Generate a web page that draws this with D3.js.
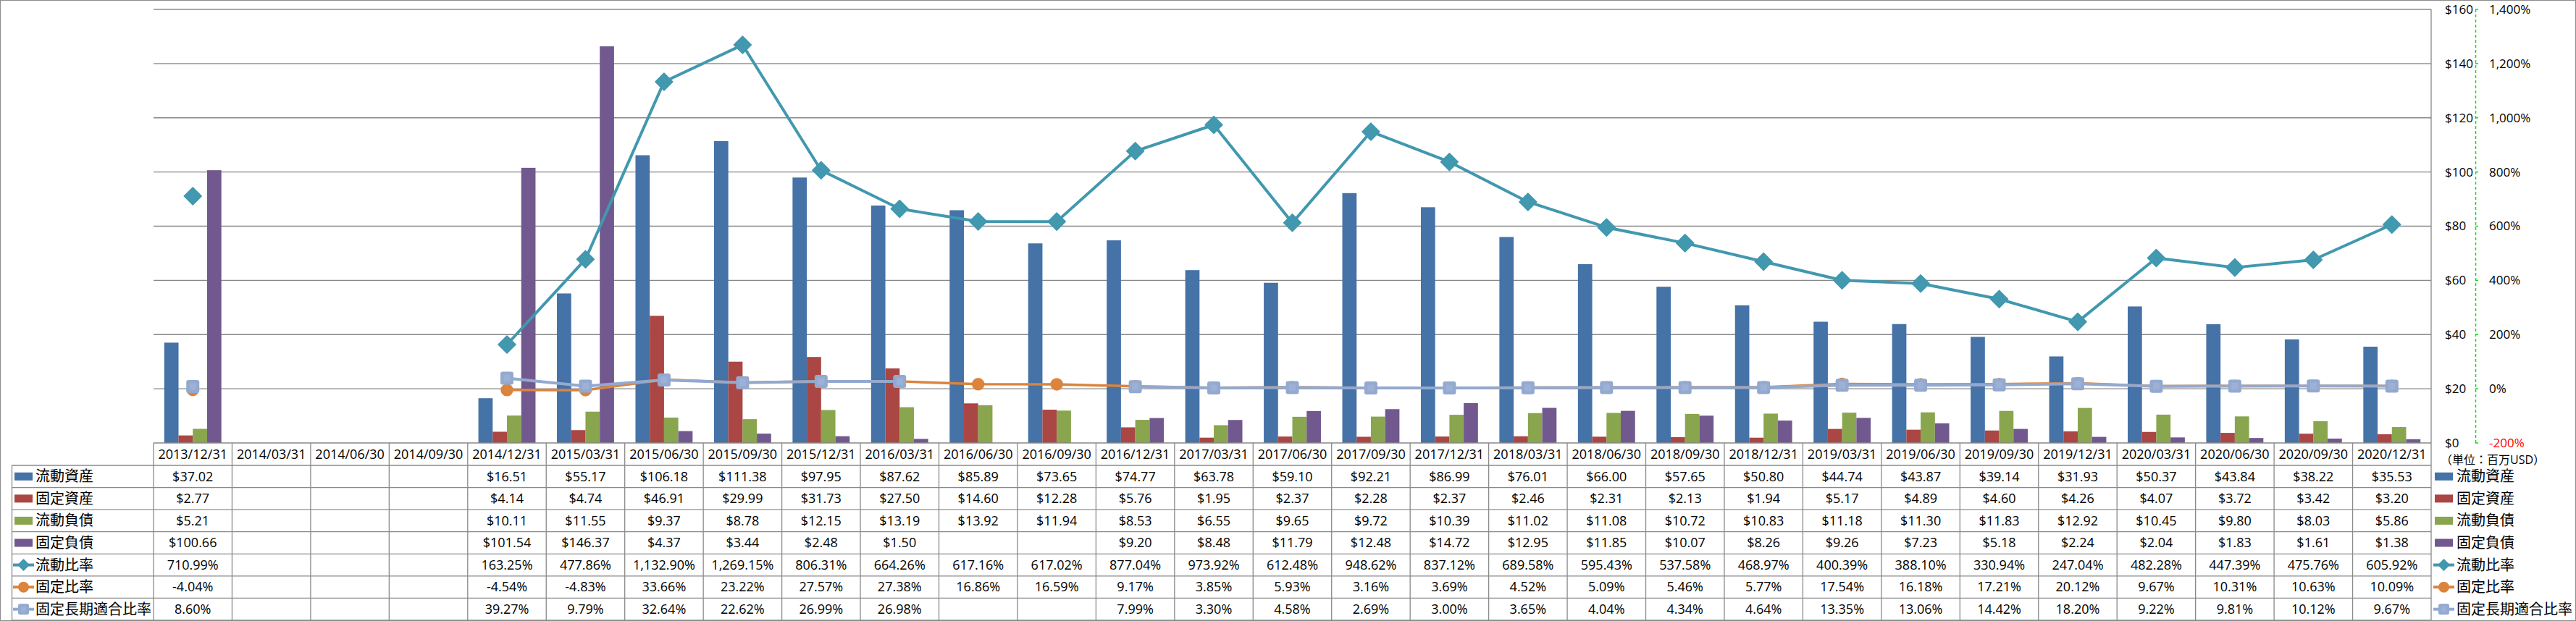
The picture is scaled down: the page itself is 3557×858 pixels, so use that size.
<!DOCTYPE html>
<html><head><meta charset="utf-8">
<script src="https://cdn.jsdelivr.net/npm/d3@7"></script>
<style>
html,body{margin:0;padding:0;background:#fff;}
svg text{font-family:"Open Sans","Noto Sans CJK JP",sans-serif;fill:#000;}
</style></head>
<body>
<script>
const dates = ["2013/12/31","2014/03/31","2014/06/30","2014/09/30","2014/12/31","2015/03/31","2015/06/30","2015/09/30","2015/12/31","2016/03/31","2016/06/30","2016/09/30","2016/12/31","2017/03/31","2017/06/30","2017/09/30","2017/12/31","2018/03/31","2018/06/30","2018/09/30","2018/12/31","2019/03/31","2019/06/30","2019/09/30","2019/12/31","2020/03/31","2020/06/30","2020/09/30","2020/12/31"];
const n = null;
const currentAssets = [37.02,n,n,n,16.51,55.17,106.18,111.38,97.95,87.62,85.89,73.65,74.77,63.78,59.10,92.21,86.99,76.01,66.00,57.65,50.80,44.74,43.87,39.14,31.93,50.37,43.84,38.22,35.53];
const fixedAssets = [2.77,n,n,n,4.14,4.74,46.91,29.99,31.73,27.50,14.60,12.28,5.76,1.95,2.37,2.28,2.37,2.46,2.31,2.13,1.94,5.17,4.89,4.60,4.26,4.07,3.72,3.42,3.20];
const currentLiab = [5.21,n,n,n,10.11,11.55,9.37,8.78,12.15,13.19,13.92,11.94,8.53,6.55,9.65,9.72,10.39,11.02,11.08,10.72,10.83,11.18,11.30,11.83,12.92,10.45,9.80,8.03,5.86];
const fixedLiab = [100.66,n,n,n,101.54,146.37,4.37,3.44,2.48,1.50,n,n,9.20,8.48,11.79,12.48,14.72,12.95,11.85,10.07,8.26,9.26,7.23,5.18,2.24,2.04,1.83,1.61,1.38];
const currentRatio = [710.99,n,n,n,163.25,477.86,1132.90,1269.15,806.31,664.26,617.16,617.02,877.04,973.92,612.48,948.62,837.12,689.58,595.43,537.58,468.97,400.39,388.10,330.94,247.04,482.28,447.39,475.76,605.92];
const fixedRatio = [-4.04,n,n,n,-4.54,-4.83,33.66,23.22,27.57,27.38,16.86,16.59,9.17,3.85,5.93,3.16,3.69,4.52,5.09,5.46,5.77,17.54,16.18,17.21,20.12,9.67,10.31,10.63,10.09];
const fixedLongRatio = [8.60,n,n,n,39.27,9.79,32.64,22.62,26.99,26.98,n,n,7.99,3.30,4.58,2.69,3.00,3.65,4.04,4.34,4.64,13.35,13.06,14.42,18.20,9.22,9.81,10.12,9.67];
const leftTicks = [0,20,40,60,80,100,120,140,160];
const rightTicks = [-200,0,200,400,600,800,1000,1200,1400];
const unitLabel = "（単位：百万USD）";

const barSeries = [
  {name:"流動資産", values:currentAssets, color:"#4572A7"},
  {name:"固定資産", values:fixedAssets, color:"#AA4643"},
  {name:"流動負債", values:currentLiab, color:"#89A54E"},
  {name:"固定負債", values:fixedLiab, color:"#71588F"}
];
const lineSeries = [
  {name:"流動比率", values:currentRatio, color:"#4198AF", marker:"diamond", width:4},
  {name:"固定比率", values:fixedRatio, color:"#DB843D", marker:"circle", width:3.5},
  {name:"固定長期適合比率", values:fixedLongRatio, color:"#93A9CF", marker:"square", width:4}
];

const loc = d3.formatLocale({decimal:".", thousands:",", grouping:[3], currency:["$",""], minus:"-"});

const W = 3557, H = 858;
const L = 212, R = 3357, T = 13, B = 612;
const rowTop = 643, rowH = 30.57;
const grid = "#888888";

const svg = d3.select("body").append("svg").attr("width", W).attr("height", H);
svg.append("rect").attr("x",0.5).attr("y",0.5).attr("width",W-1).attr("height",H-1).attr("fill","#fff").attr("stroke","#8c8c8c");

const x = d3.scaleBand().domain(dates).range([L, R]).padding(0);
const xb = d3.scaleBand().domain(barSeries.map(s=>s.name)).range([0, x.bandwidth()]).paddingInner(0).paddingOuter(0.75);
const y = d3.scaleLinear().domain([0,160]).range([B, T]);
const y2 = d3.scaleLinear().domain([-200,1400]).range([B, T]);

// gridlines
svg.append("g").selectAll("line").data(leftTicks.filter(t=>t>0)).join("line")
  .attr("x1",L).attr("x2",R).attr("y1",d=>y(d)).attr("y2",d=>y(d))
  .attr("stroke",grid).attr("stroke-width",1.3);

// bars
barSeries.forEach(s=>{
  svg.append("g").selectAll("rect").data(s.values.map((v,i)=>({v,d:dates[i]})).filter(o=>o.v!=null)).join("rect")
    .attr("x",o=>x(o.d)+xb(s.name)).attr("width",xb.bandwidth())
    .attr("y",o=>y(o.v)).attr("height",o=>B-y(o.v)).attr("fill",s.color);
});

// axis frame
svg.append("line").attr("x1",L).attr("x2",R).attr("y1",B).attr("y2",B).attr("stroke",grid).attr("stroke-width",1.3);
svg.append("line").attr("x1",R).attr("x2",R).attr("y1",T).attr("y2",B).attr("stroke",grid).attr("stroke-width",1.3);

// lines
function drawMarker(g, type, cx, cy, color, size){
  if(type==="diamond"){
    const h=size/2;
    g.append("path").attr("d",`M${cx},${cy-h}L${cx+h},${cy}L${cx},${cy+h}L${cx-h},${cy}Z`)
      .attr("fill",color).attr("stroke",color).attr("stroke-width",1.5).attr("stroke-linejoin","round");
  } else if(type==="circle"){
    g.append("circle").attr("cx",cx).attr("cy",cy).attr("r",size/2).attr("fill",color);
  } else {
    g.append("rect").attr("x",cx-size/2).attr("y",cy-size/2).attr("width",size).attr("height",size).attr("rx",size*0.18).attr("fill",color);
    g.append("rect").attr("x",cx-size/4).attr("y",cy-size/4).attr("width",size/2).attr("height",size/2).attr("fill","#a3b7da").attr("opacity",0.6);
  }
}
const msize = {diamond:24, circle:17.5, square:18};
lineSeries.forEach(s=>{
  const g = svg.append("g");
  const line = d3.line().defined(d=>d.v!=null).x(d=>x(d.d)+x.bandwidth()/2).y(d=>y2(d.v));
  const data = s.values.map((v,i)=>({v,d:dates[i]}));
  g.append("path").attr("d",line(data)).attr("fill","none").attr("stroke",s.color).attr("stroke-width",s.width).attr("stroke-linejoin","round");
  data.filter(o=>o.v!=null).forEach(o=>drawMarker(g,s.marker,x(o.d)+x.bandwidth()/2,y2(o.v),s.color,msize[s.marker]));
});

// right axes
const ax = svg.append("g");
ax.selectAll("text.l").data(leftTicks).join("text").attr("class","l")
  .attr("x",3376).attr("y",d=>y(d)).attr("dy","0.35em").attr("font-size",17).text(d=>"$"+d);
ax.append("line").attr("x1",3418.5).attr("x2",3418.5).attr("y1",T).attr("y2",B)
  .attr("stroke","#00e600").attr("stroke-width",1.5).attr("stroke-dasharray","4,3");
ax.selectAll("line.t").data(rightTicks).join("line").attr("class","t")
  .attr("x1",3418).attr("x2",3422).attr("y1",d=>y2(d)).attr("y2",d=>y2(d)).attr("stroke","#00e600").attr("stroke-width",1.5);
ax.selectAll("text.r").data(rightTicks).join("text").attr("class","r")
  .attr("x",3437).attr("y",d=>y2(d)).attr("dy","0.35em").attr("font-size",17)
  .style("fill",d=>d<0?"#ff0000":"#000")
  .text(d=>loc.format(",")(d)+"%");
svg.append("text").attr("x",3370).attr("y",635).attr("dy","0.35em").attr("font-size",16).text(unitLabel);

// data table
const tg = svg.append("g");
const tbl = "#8a8a8a";
tg.selectAll("line.v").data(dates.concat(["_end"])).join("line").attr("class","v")
  .attr("x1",(d,i)=>L+i*x.bandwidth()).attr("x2",(d,i)=>L+i*x.bandwidth())
  .attr("y1",B).attr("y2",H-1).attr("stroke",tbl).attr("stroke-width",1.3);
const nRows = 7;
d3.range(nRows+1).forEach(r=>{
  tg.append("line").attr("x1",16).attr("x2",R).attr("y1",rowTop+r*rowH).attr("y2",rowTop+r*rowH).attr("stroke",tbl).attr("stroke-width",1.3);
});
tg.append("line").attr("x1",16.5).attr("x2",16.5).attr("y1",rowTop).attr("y2",H-1).attr("stroke",tbl).attr("stroke-width",1.3);
tg.selectAll("text.h").data(dates).join("text").attr("class","h")
  .attr("x",d=>x(d)+x.bandwidth()/2).attr("y",628).attr("dy","0.35em").attr("text-anchor","middle").attr("font-size",18).text(d=>d);

const fmtD = v=>v==null?"":"$"+loc.format(".2f")(v);
const fmtP = v=>v==null?"":loc.format(",.2f")(v)+"%";
const rows = barSeries.map(s=>({s,kind:"bar",fmt:fmtD})).concat(lineSeries.map(s=>({s,kind:"line",fmt:fmtP})));

function legendKey(g, row, kx, cy){
  if(row.kind==="bar"){
    g.append("rect").attr("x",kx).attr("y",cy-5.5).attr("width",25).attr("height",11).attr("fill",row.s.color);
  } else {
    g.append("line").attr("x1",kx-2).attr("x2",kx+27).attr("y1",cy).attr("y2",cy).attr("stroke",row.s.color).attr("stroke-width",4);
    drawMarker(g,row.s.marker,kx+12.5,cy,row.s.color,15);
  }
}
rows.forEach((row,r)=>{
  const cy = rowTop + r*rowH + rowH/2;
  tg.selectAll(null).data(row.s.values.map((v,i)=>({v,d:dates[i]}))).join("text")
    .attr("x",o=>x(o.d)+x.bandwidth()/2).attr("y",cy).attr("dy","0.35em").attr("text-anchor","middle")
    .attr("font-size",18).text(o=>row.fmt(o.v));
  legendKey(tg,row,20,cy);
  tg.append("text").attr("x",49).attr("y",cy).attr("dy","0.35em").attr("font-size",20).text(row.s.name);
  legendKey(tg,row,3362,cy);
  tg.append("text").attr("x",3392).attr("y",cy).attr("dy","0.35em").attr("font-size",20).text(row.s.name);
});
</script>
</body></html>
